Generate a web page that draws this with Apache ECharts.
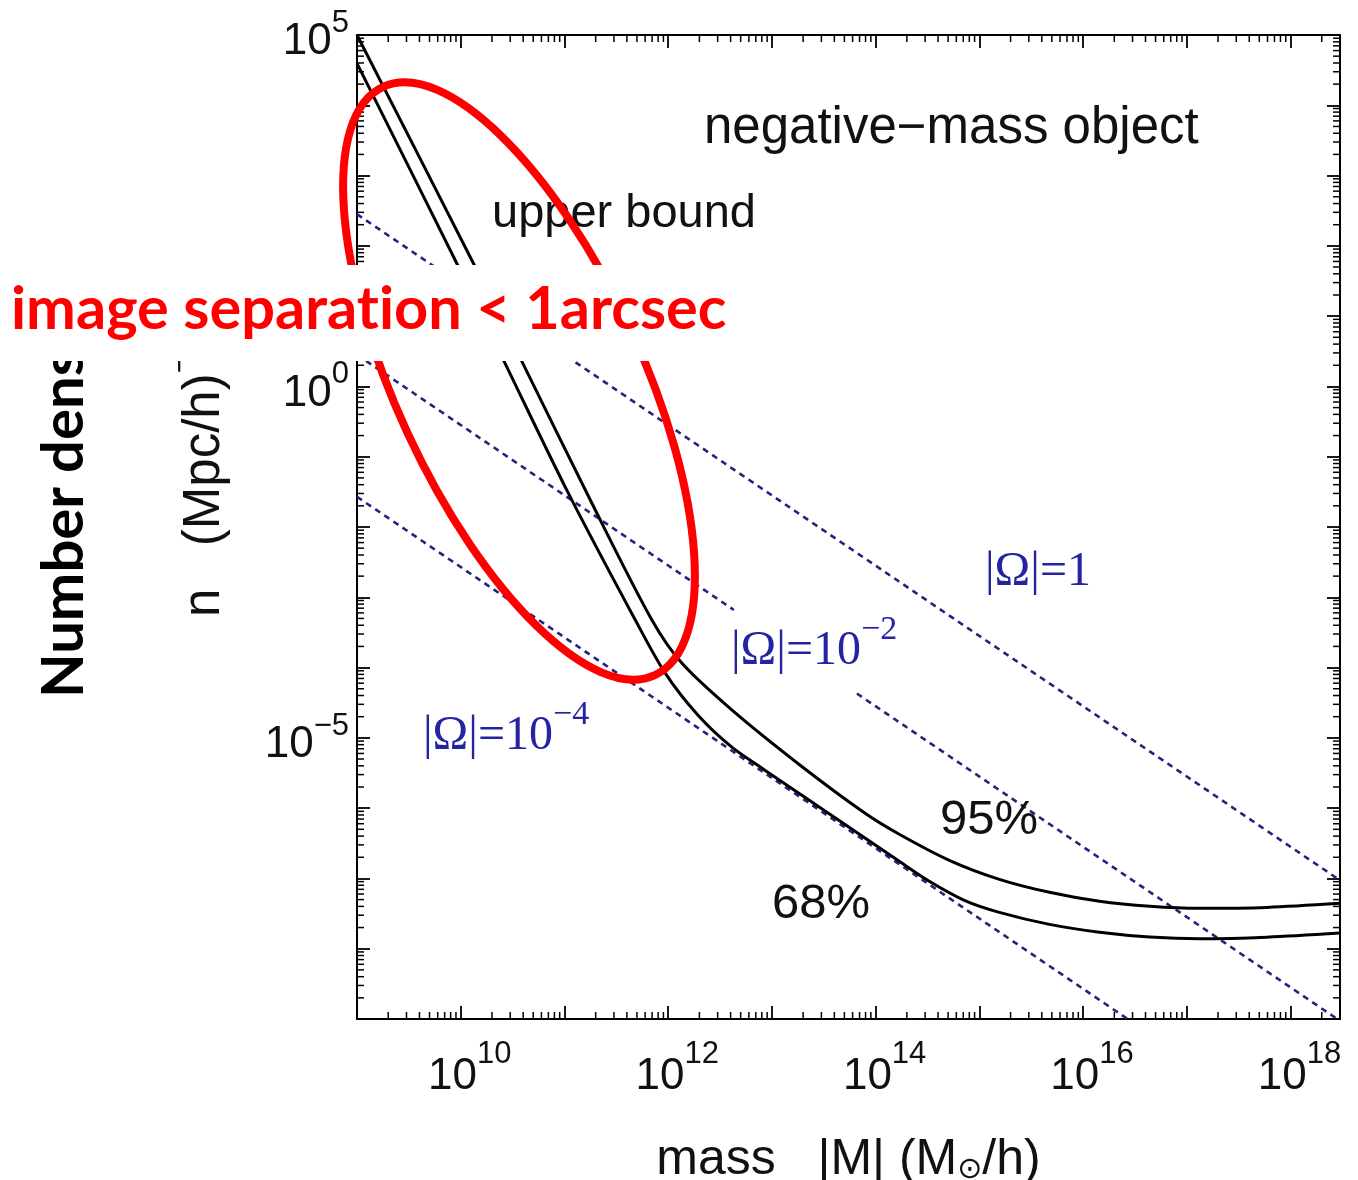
<!DOCTYPE html>
<html>
<head>
<meta charset="utf-8">
<title>negative-mass object</title>
<script src="https://cdn.jsdelivr.net/npm/echarts@6/dist/echarts.min.js"></script>
<style>
  html, body { margin: 0; padding: 0; background: #fff; }
  #chart { width: 1358px; height: 1180px; }
</style>
</head>
<body>
<div id="chart"></div>
<script>
// 95% upper bound
const mass95 = [1.0e9, 1.37e10, 3.76e10, 1.84e11, 6.97e11, 1.36e12, 4.13e12, 1.82e13, 7.92e13, 1.69e14, 5.13e14,
    1.56e15, 4.74e15, 1.44e16, 4.40e16, 1.34e17, 5.93e17, 3.0e18];
const n95 = [1.0e5, 51.2, 2.51, 2.18e-2, 4.75e-4, 1.15e-4, 2.48e-5, 4.22e-6, 8.45e-7, 4.25e-7, 1.81e-7,
    9.70e-8, 6.34e-8, 4.72e-8, 4.01e-8, 3.75e-8, 3.87e-8, 4.42e-8];

// 68% upper bound
const mass68 = [1.0e9, 9.46e9, 2.67e10, 1.09e11, 4.82e11, 9.40e11, 1.97e12, 4.11e12, 8.55e12, 1.82e13, 5.55e13,
    1.69e14, 3.29e14, 7.16e14, 1.56e15, 4.74e15, 1.44e16, 4.40e16, 1.34e17, 5.93e17, 3.0e18];
const n68 = [3.95e4, 51.2, 2.15, 3.03e-2, 4.75e-4, 8.26e-5, 2.04e-5, 7.36e-6, 3.47e-6, 1.63e-6, 5.35e-7,
    1.75e-7, 9.10e-8, 4.88e-8, 3.29e-8, 2.22e-8, 1.72e-8, 1.47e-8, 1.39e-8, 1.46e-8, 1.67e-8];

// |Omega| = const reference lines
const omegaMass1 = [1e9, 3e18];
const omegaN1 = [282, 9.4e-8];
const omegaMass2a = [1e9, 4.3e12];
const omegaN2a = [2.82, 6.6e-4];
const omegaMass2b = [6.6e13, 2.82e18];
const omegaN2b = [4.27e-5, 1e-9];
const omegaMass4 = [1e9, 2.69e16];
const omegaN4 = [2.69e-2, 1e-9];

// axis ranges and labelled exponents
const xMin = 1e9, xMax = 3e18;
const yMin = 1e-9, yMax = 1e5;
const xLabelExp = [10, 12, 14, 16, 18];
const yLabelExp = [5, 0, -5];

// minor (2..9) ticks of the log axes
const xMinor = [];
for (let e = 9; e <= 18; e++) for (let k = 2; k <= 9; k++) if (k * Math.pow(10, e) < xMax) xMinor.push(k * Math.pow(10, e));
const yMinor = [];
for (let e = -9; e <= 4; e++) for (let k = 2; k <= 9; k++) yMinor.push(k * Math.pow(10, e));

const pairs = (xs, ys) => xs.map((x, i) => [x, ys[i]]);

const SANS = 'Liberation Sans, Arial, sans-serif';
const SERIF = 'Liberation Serif, Times New Roman, serif';
const BLUE_LINE = '#24247f';
const BLUE_TEXT = '#2424a0';

function expOf(v) {
    const l = Math.log10(v);
    const e = Math.round(l);
    return Math.abs(l - e) < 1e-6 ? e : null;
}
function supText(e) {
    return e < 0 ? '\u2212' + (-e) : String(e);
}

const tickStyle = { show: true, inside: true, length: 13, lineStyle: { color: '#000', width: 1.8 } };
const lineAxis = { show: true, lineStyle: { color: '#000', width: 2 } };

function minorX(params, api) {
    const cs = params.coordSys;
    const px = api.coord([api.value(0), 1])[0];
    const st = { stroke: '#000', lineWidth: 1.5 };
    return {
        type: 'group',
        children: [
            { type: 'line', shape: { x1: px, y1: cs.y + cs.height, x2: px, y2: cs.y + cs.height - 7 }, style: st },
            { type: 'line', shape: { x1: px, y1: cs.y, x2: px, y2: cs.y + 7 }, style: st }
        ]
    };
}
function minorY(params, api) {
    const cs = params.coordSys;
    const py = api.coord([1e12, api.value(1)])[1];
    const st = { stroke: '#000', lineWidth: 1.5 };
    return {
        type: 'group',
        children: [
            { type: 'line', shape: { x1: cs.x, y1: py, x2: cs.x + 7, y2: py }, style: st },
            { type: 'line', shape: { x1: cs.x + cs.width, y1: py, x2: cs.x + cs.width - 7, y2: py }, style: st }
        ]
    };
}

function dashed(name, xs, ys) {
    return {
        name: name, type: 'line', data: pairs(xs, ys), symbol: 'none',
        lineStyle: { color: BLUE_LINE, width: 2.6, type: [6, 5] }, z: 3
    };
}
function bound(name, xs, ys) {
    return {
        name: name, type: 'line', data: pairs(xs, ys), symbol: 'none', smooth: 0.3,
        lineStyle: { color: '#000', width: 3 }, z: 4
    };
}

function text(str, x, y, size, family, color, z, weight) {
    return {
        type: 'text', x: x, y: y, z: z || 10,
        style: {
            text: str, fontSize: size, fontFamily: family, fontWeight: weight || 'normal',
            fill: color, align: 'left', verticalAlign: 'middle'
        }
    };
}
function omegaText(base, sup, x, y) {
    return {
        type: 'text', x: x, y: y, z: 10,
        style: {
            text: '{b|' + base + '}' + (sup ? '{s|' + sup + '}' : ''),
            align: 'left', verticalAlign: 'middle',
            rich: {
                b: { fontSize: 48, fontFamily: SERIF, fill: BLUE_TEXT, lineHeight: 76 },
                s: { fontSize: 34, fontFamily: SERIF, fill: BLUE_TEXT, lineHeight: 34, verticalAlign: 'top' }
            }
        }
    };
}

const chart = echarts.init(document.getElementById('chart'));

const option = {
    backgroundColor: '#fff',
    animation: false,
    grid: { left: 357, top: 35, width: 983, height: 984, outerBoundsMode: 'none' },
    xAxis: [
        {
            type: 'log', min: xMin, max: xMax, interval: 1, position: 'bottom',
            axisLine: lineAxis, axisTick: tickStyle, splitLine: { show: false },
            axisLabel: {
                margin: 20, padding: [0, 0, 0, 18],
                formatter: function (v) {
                    const e = expOf(v);
                    return e !== null && xLabelExp.indexOf(e) >= 0 ? '{b|10}{s|' + supText(e) + '}' : '';
                },
                rich: {
                    b: { fontSize: 44, fontFamily: SANS, color: '#111', lineHeight: 76 },
                    s: { fontSize: 31, fontFamily: SANS, color: '#111', lineHeight: 30, verticalAlign: 'top' }
                }
            },
            name: '{t|mass   |M| (M}{o|\u2299}{t|/h)}',
            nameLocation: 'middle', nameGap: 116,
            nameTextStyle: {
                rich: {
                    t: { fontSize: 50, fontFamily: SANS, color: '#111', lineHeight: 50 },
                    o: { fontSize: 30, fontFamily: 'DejaVu Sans, sans-serif', color: '#111', lineHeight: 40, verticalAlign: 'bottom' }
                }
            }
        },
        {
            type: 'log', min: xMin, max: xMax, interval: 1, position: 'top',
            axisLine: lineAxis, axisTick: tickStyle, axisLabel: { show: false }, splitLine: { show: false }
        }
    ],
    yAxis: [
        {
            type: 'log', min: yMin, max: yMax, interval: 1, position: 'left',
            axisLine: lineAxis, axisTick: tickStyle, splitLine: { show: false },
            axisLabel: {
                margin: 8, padding: [14, 0, 0, 0],
                formatter: function (v) {
                    const e = expOf(v);
                    return e !== null && yLabelExp.indexOf(e) >= 0 ? '{b|10}{s|' + supText(e) + '}' : '';
                },
                rich: {
                    b: { fontSize: 44, fontFamily: SANS, color: '#111', lineHeight: 68 },
                    s: { fontSize: 31, fontFamily: SANS, color: '#111', lineHeight: 30, verticalAlign: 'top' }
                }
            }
        },
        {
            type: 'log', min: yMin, max: yMax, interval: 1, position: 'right',
            axisLine: lineAxis, axisTick: tickStyle, axisLabel: { show: false }, splitLine: { show: false }
        }
    ],
    series: [
        dashed('|Ω|=1', omegaMass1, omegaN1),
        dashed('|Ω|=1e-2', omegaMass2a, omegaN2a),
        dashed('|Ω|=1e-2 ', omegaMass2b, omegaN2b),
        dashed('|Ω|=1e-4', omegaMass4, omegaN4),
        bound('95%', mass95, n95),
        bound('68%', mass68, n68),
        { type: 'custom', renderItem: minorX, data: xMinor.map(v => [v, 1]), silent: true, z: 5 },
        { type: 'custom', renderItem: minorY, data: yMinor.map(v => [1e12, v]), silent: true, z: 5 }
    ],
    graphic: [
        text('negative\u2212mass object', 704, 129, 51, SANS, '#111'),
        text('upper bound', 492, 214, 47, SANS, '#111'),
        text('95%', 940, 820, 49, SANS, '#111'),
        text('68%', 772, 904, 49, SANS, '#111'),
        omegaText('|\u03A9|=1', null, 985, 572),
        omegaText('|\u03A9|=10', '\u22122', 731, 651),
        omegaText('|\u03A9|=10', '\u22124', 423, 736),
        {
            // y axis title, partly hidden under the white box
            type: 'text', x: 205, y: 617, rotation: Math.PI / 2, z: 5,
            style: {
                text: '{t|n   (Mpc/h)}{s|\u22123}', align: 'left', verticalAlign: 'middle',
                rich: {
                    t: { fontSize: 51, fontFamily: SANS, fill: '#111', lineHeight: 80 },
                    s: { fontSize: 32, fontFamily: SANS, fill: '#111', lineHeight: 32, verticalAlign: 'top' }
                }
            }
        },
        {
            type: 'ellipse', x: 519, y: 381, rotation: -1.138, z: 20,
            shape: { cx: 0, cy: 0, rx: 324, ry: 123 },
            style: { fill: 'none', stroke: '#ff0000', lineWidth: 8 }
        },
        {
            type: 'rect', z: 30,
            shape: { x: 0, y: 265, width: 745, height: 96 },
            style: { fill: '#fff' }
        },
        text('image separat\u200Cion < 1arcsec', 11, 310, 59.5, 'Lato', '#ff0000', 31, 'bold'),
        {
            type: 'text', x: 64, y: 698, rotation: Math.PI / 2, z: 29,
            style: { text: 'Number dens', fontSize: 58, fontWeight: 'bold', fontFamily: 'Lato', fill: '#000', align: 'left', verticalAlign: 'middle' }
        }
    ]
};

chart.setOption(option);
</script>
</body>
</html>
